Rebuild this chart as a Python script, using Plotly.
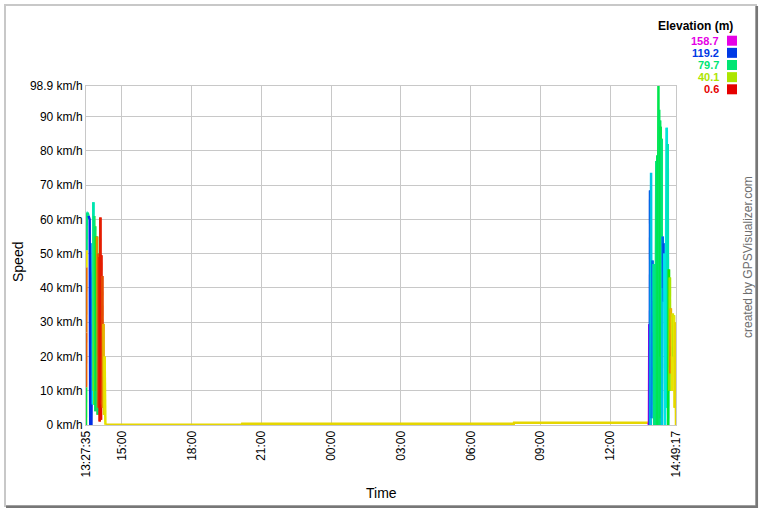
import colorsys
import plotly.graph_objects as go

D1 = "2019-06-15"
D2 = "2019-06-16"

# ---- data: GPS track (time, speed km/h, elevation m) ----
times = [
    # first burst (day 1)
    f"{D1} 13:27:35", f"{D1} 13:27:59", f"{D1} 13:28:23", f"{D1} 13:28:47", f"{D1} 13:29:11",
    f"{D1} 13:29:35", f"{D1} 13:31:35", f"{D1} 13:34:05", f"{D1} 13:37:05", f"{D1} 13:38:35",
    f"{D1} 13:41:35", f"{D1} 13:44:35", f"{D1} 13:45:35", f"{D1} 13:46:35", f"{D1} 13:47:35",
    f"{D1} 13:48:35", f"{D1} 13:49:35", f"{D1} 13:51:05", f"{D1} 13:52:05", f"{D1} 13:53:35",
    f"{D1} 13:54:35", f"{D1} 13:56:05", f"{D1} 13:57:35", f"{D1} 13:59:05", f"{D1} 14:00:35",
    f"{D1} 14:02:05", f"{D1} 14:03:05", f"{D1} 14:04:35", f"{D1} 14:06:05", f"{D1} 14:07:05",
    f"{D1} 14:08:35", f"{D1} 14:09:35", f"{D1} 14:11:05", f"{D1} 14:12:35", f"{D1} 14:14:05",
    f"{D1} 14:15:35", f"{D1} 14:17:35", f"{D1} 14:20:00",
    # idle period
    f"{D1} 20:10:00", f"{D1} 20:10:30", f"{D2} 07:51:00", f"{D2} 07:51:30", f"{D2} 13:38:00",
    # second burst (day 2)
    f"{D2} 13:39:30", f"{D2} 13:40:30", f"{D2} 13:41:30", f"{D2} 13:42:30", f"{D2} 13:43:30",
    f"{D2} 13:45:00", f"{D2} 13:46:00", f"{D2} 13:48:30", f"{D2} 13:50:00", f"{D2} 13:51:30",
    f"{D2} 13:53:00", f"{D2} 13:54:30", f"{D2} 13:56:00", f"{D2} 13:58:30", f"{D2} 13:59:30",
    f"{D2} 14:01:00", f"{D2} 14:02:00", f"{D2} 14:04:00", f"{D2} 14:05:00", f"{D2} 14:06:00",
    f"{D2} 14:07:00", f"{D2} 14:08:00", f"{D2} 14:09:00", f"{D2} 14:09:30", f"{D2} 14:10:30",
    f"{D2} 14:12:00", f"{D2} 14:13:00", f"{D2} 14:15:00", f"{D2} 14:16:00", f"{D2} 14:17:00",
    f"{D2} 14:18:00", f"{D2} 14:19:00", f"{D2} 14:21:00", f"{D2} 14:25:30", f"{D2} 14:26:30",
    f"{D2} 14:28:00", f"{D2} 14:29:00", f"{D2} 14:31:00", f"{D2} 14:32:00", f"{D2} 14:33:30",
    f"{D2} 14:34:30", f"{D2} 14:36:00", f"{D2} 14:37:00", f"{D2} 14:38:00", f"{D2} 14:39:00",
    f"{D2} 14:41:00", f"{D2} 14:43:00", f"{D2} 14:44:00", f"{D2} 14:46:00", f"{D2} 14:47:30",
    f"{D2} 14:49:17",
]
speed_kmh = [
    0, 11, 27, 46, 51,
    62, 62, 61, 60, 0,
    0, 53, 6, 65, 10,
    61, 6, 58, 4, 55,
    10, 55, 3, 50, 5,
    49, 1, 60.5, 1.5, 49.5,
    6, 43.5, 5, 29.5, 3,
    20, 0.1, 0.05,
    0.05, 0.35, 0.35, 0.65, 0.65,
    0, 29.4, 0, 68.4, 0,
    73.6, 2, 48, 36, 47,
    0, 46.6, 0, 77, 0,
    78.6, 0, 98.9, 0, 92,
    0, 88.8, 20, 87, 2,
    83.5, 0, 55, 40, 53,
    36, 50, 0, 86.7, 5,
    82, 0, 45.4, 10, 43,
    15, 34, 20, 31.5, 10,
    32.5, 20, 32, 5, 30,
    0,
]
elevation_m = [
    78, 72, 14, 16, 32,
    80, 92, 82, 120, 120,
    120, 120, 100, 95, 88,
    50, 80, 45, 78, 76,
    60, 72, 20, 78, 14,
    8, 6, 3, 4, 3,
    5, 7, 12, 18, 25,
    30, 32, 30,
    30, 30, 30, 30, 30,
    158, 158, 150, 120, 116,
    100, 100, 108, 112, 105,
    85, 80, 82, 80, 80,
    78, 76, 74, 74, 76,
    76, 78, 76, 72, 75,
    72, 80, 100, 112, 108,
    116, 104, 95, 95, 93,
    92, 90, 70, 60, 45,
    40, 18, 25, 14, 30,
    32, 35, 40, 33, 30,
    30,
]

x_tick_times = [f"{D1} 13:27:35", f"{D1} 15:00:00", f"{D1} 18:00:00", f"{D1} 21:00:00",
                f"{D2} 00:00:00", f"{D2} 03:00:00", f"{D2} 06:00:00", f"{D2} 09:00:00",
                f"{D2} 12:00:00", f"{D2} 14:49:17"]
x_tick_labels = ["13:27:35", "15:00", "18:00", "21:00", "00:00", "03:00", "06:00",
                 "09:00", "12:00", "14:49:17"]
y_tick_values = [0, 10, 20, 30, 40, 50, 60, 70, 80, 90, 98.9]
y_tick_labels = [f"{v:g} km/h" for v in y_tick_values]
legend_elevations = [158.7, 119.2, 79.7, 40.1, 0.6]
ELEV_MIN, ELEV_MAX = 0.6, 158.7
SPEED_MAX = 98.9


def hue_of(e):
    f = (e - ELEV_MIN) / (ELEV_MAX - ELEV_MIN)
    f = max(0.0, min(1.0, f))
    return 300.0 * f


def color_of_hue(h):
    r, g, b = colorsys.hls_to_rgb(h / 360.0, 0.45, 1.0)
    return f"rgb({int(r*255)},{int(g*255)},{int(b*255)})"


# group consecutive segments of (nearly) the same colour into polylines
groups = []
for i in range(len(times) - 1):
    key = round(hue_of(elevation_m[i + 1]) / 4.0) * 4.0
    if groups and groups[-1][0] == key:
        groups[-1][1].append(times[i + 1])
        groups[-1][2].append(speed_kmh[i + 1])
    else:
        groups.append([key, [times[i], times[i + 1]], [speed_kmh[i], speed_kmh[i + 1]]])

fig = go.Figure()
for key, xs, ys in groups:
    fig.add_trace(go.Scatter(x=xs, y=ys, mode="lines",
                             line=dict(color=color_of_hue(key), width=2.5),
                             hoverinfo="skip", showlegend=False))

L, R, T, B = 86, 89, 86, 87
W, H = 765, 512
PW, PH = W - L - R, H - T - B


def px(x):
    return (x - L) / PW


def py(y):
    return (H - B - y) / PH


GRID = "#c8c8c8"
fig.update_layout(
    width=W, height=H,
    margin=dict(l=L, r=R, t=T, b=B, pad=0),
    paper_bgcolor="white", plot_bgcolor="white",
    showlegend=False, hovermode=False,
    font=dict(family="Arial, 'Liberation Sans', sans-serif", size=12, color="#000"),
    xaxis=dict(type="date", range=[x_tick_times[0], x_tick_times[-1]],
               tickmode="array", tickvals=x_tick_times, ticktext=x_tick_labels,
               tickangle=-90, showgrid=True, gridcolor=GRID, gridwidth=1,
               showline=True, linecolor=GRID, mirror=True, ticks="",
               zeroline=False, automargin=False, fixedrange=True),
    yaxis=dict(range=[0, SPEED_MAX], tickmode="array", tickvals=y_tick_values,
               ticktext=y_tick_labels, showgrid=True, gridcolor=GRID, gridwidth=1,
               showline=True, linecolor=GRID, mirror=True, ticks="",
               zeroline=False, automargin=False, fixedrange=True),
)

annotations = [
    dict(text="Time", xref="paper", yref="paper", x=0.5, y=py(493),
         xanchor="center", yanchor="middle", showarrow=False, font=dict(size=14)),
    dict(text="Speed", xref="paper", yref="paper", x=px(18), y=py(262),
         xanchor="center", yanchor="middle", textangle=-90, showarrow=False,
         font=dict(size=14)),
    dict(text="created by GPSVisualizer.com", xref="paper", yref="paper",
         x=px(748), y=py(257), xanchor="center", yanchor="middle", textangle=-90,
         showarrow=False, font=dict(size=12, color="#6e6e6e")),
    dict(text="<b>Elevation (m)</b>", xref="paper", yref="paper", x=px(735), y=py(26.5),
         xanchor="right", yanchor="middle", showarrow=False, font=dict(size=12)),
]
shapes = [
    dict(type="rect", xref="paper", yref="paper", x0=px(5), x1=px(756), y0=py(5), y1=py(506),
         line=dict(color="#c8c8c8", width=2), layer="below"),
    dict(type="line", xref="paper", yref="paper", x0=px(756.8), x1=px(756.8), y0=py(6), y1=py(507.8),
         line=dict(color="#777777", width=2.5)),
    dict(type="line", xref="paper", yref="paper", x0=px(6), x1=px(758), y0=py(506.8), y1=py(506.8),
         line=dict(color="#777777", width=2.5)),
]
for i, e in enumerate(legend_elevations):
    yc = 40.7 + 12.15 * i
    col = color_of_hue(hue_of(e))
    annotations.append(dict(text=f"<b>{e:.1f}</b>", xref="paper", yref="paper",
                            x=px(721), y=py(yc), xanchor="right", yanchor="middle",
                            showarrow=False, font=dict(size=11, color=col)))
    shapes.append(dict(type="rect", xref="paper", yref="paper",
                       x0=px(727), x1=px(737), y0=py(yc - 5), y1=py(yc + 5),
                       fillcolor=col, line=dict(width=0)))

fig.update_layout(annotations=annotations, shapes=shapes)
fig.write_html("out.html", config={"displayModeBar": False},
               post_script="document.body.style.margin='0';document.body.style.padding='0';")
